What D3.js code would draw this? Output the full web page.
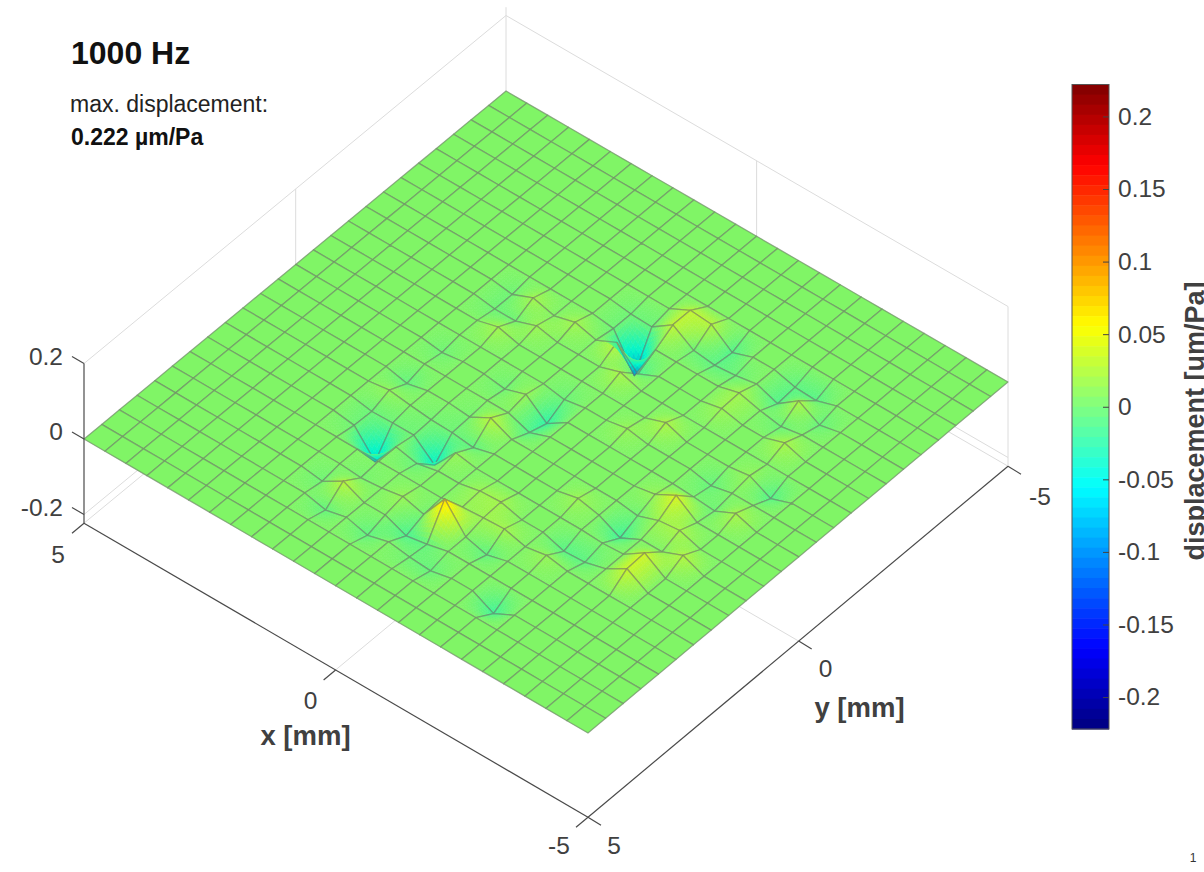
<!DOCTYPE html><html><head><meta charset="utf-8"><style>html,body{margin:0;background:#fff}text{font-family:"Liberation Sans",Arial,sans-serif}</style><script src="https://cdn.jsdelivr.net/npm/d3@7/dist/d3.min.js"></script></head><body><svg id="c" width="1204" height="872" style="display:block"></svg><script>
// ---- data (displacement, 1/1000 um/Pa, rows along x from +5 to -5, columns along y from +5 to -5)
const zRows=[
[0,0,0,0,0,0,0,0,0,0,0,0,0,0,0,0,0,0,0,0,0,0,0,0,0],
[0,0,0,0,0,0,0,0,0,0,0,0,0,0,0,0,0,0,0,0,0,0,0,0,0],
[0,0,0,0,0,0,0,0,0,0,0,0,0,0,0,0,0,0,0,0,0,0,0,0,0],
[0,0,0,0,0,0,0,0,0,0,0,0,0,0,0,0,0,0,0,0,0,0,0,0,0],
[0,0,0,0,0,0,0,0,0,0,0,0,0,0,0,0,0,0,0,0,0,0,0,0,0],
[0,0,0,0,0,0,0,0,0,0,0,0,0,0,0,0,0,0,0,0,0,0,0,0,0],
[0,0,0,0,0,0,0,0,0,0,0,0,0,0,0,0,0,0,0,0,0,0,0,0,0],
[0,0,0,0,0,0,0,-8,-10,8,-13,0,-8,0,0,-8,-8,0,0,0,0,0,0,0,0],
[0,0,0,0,-8,0,0,-72,-8,0,0,0,0,0,15,-8,15,0,0,0,0,0,0,0,0],
[0,0,0,-13,25,-5,0,0,-8,-6,0,0,0,0,0,12,0,0,0,0,0,0,0,0,0],
[0,0,0,0,0,0,0,-12,-55,-8,-5,0,-8,0,0,0,15,0,0,0,0,0,0,0,0],
[0,0,0,-15,0,10,0,0,10,-15,25,0,10,0,0,0,0,-8,-8,0,0,0,0,0,0],
[0,0,0,0,-23,-5,0,0,0,0,0,-20,-35,-10,0,0,26,-100,-10,0,0,0,0,0,0],
[0,0,0,-8,-13,68,8,12,0,0,0,0,0,0,0,18,-25,0,28,28,0,0,0,0,0],
[0,0,0,-12,0,0,12,15,0,0,0,0,0,0,0,0,0,0,-8,23,0,0,0,0,0],
[0,0,0,0,0,-15,15,0,0,0,0,0,0,10,0,0,0,0,-15,-20,0,0,0,0,0],
[0,0,0,0,0,0,0,0,0,12,0,0,0,0,20,0,0,0,-10,0,0,0,0,0,0],
[0,0,0,-28,0,0,10,-18,0,0,0,0,0,0,0,0,12,15,0,0,0,0,0,0,0],
[0,0,0,0,0,0,0,-15,-3,-28,-8,10,0,0,0,0,0,0,-20,-15,0,0,0,0,0],
[0,0,0,0,0,0,0,0,0,0,12,40,-3,-12,0,0,0,-10,20,-18,0,0,0,0,0],
[0,0,0,0,0,0,0,33,36,0,18,0,-8,0,8,0,18,0,-12,0,0,0,0,0,0],
[0,0,0,0,0,0,0,0,0,23,0,0,18,0,-20,0,0,0,0,0,0,0,0,0,0],
[0,0,0,0,0,0,0,0,0,0,0,0,0,0,0,0,0,0,0,0,0,0,0,0,0],
[0,0,0,0,0,0,0,0,0,0,0,0,0,0,0,0,0,0,0,0,0,0,0,0,0],
[0,0,0,0,0,0,0,0,0,0,0,0,0,0,0,0,0,0,0,0,0,0,0,0,0]];
const xTicks=[5,0,-5], yTicks=[5,0,-5], zTicks=[0.2,0,-0.2];
const cbTicks=[0.2,0.15,0.1,0.05,0,-0.05,-0.1,-0.15,-0.2];
const zMax=0.222;
const jetStops=[-1,-0.75,-0.25,0,0.25,0.75,1];
const jetColors=['#00007f','#0000ff','#00ffff','#80ff80','#ffff00','#ff0000','#7f0000'];

// ---- scales
const N=zRows.length-1;
const xS=d3.scaleLinear([5,-5],[0,1]), yS=d3.scaleLinear([5,-5],[0,1]);
const zPx=d3.scaleLinear([-0.2,0.2],[75.5,-75.5]);
const cbY=d3.scaleLinear([zMax,-zMax],[84.5,729]);
const jet=d3.scaleLinear(jetStops.map(d=>d*zMax),jetColors);
const L=[84,439],B=[588,733],R=[1008,382],T=[506,91];
function plane(u,v){const [x0,y0]=L,[x1,y1]=B,[x2,y2]=R,[x3,y3]=T;
 const dx1=x1-x2,dx2=x3-x2,sx=x0-x1+x2-x3,dy1=y1-y2,dy2=y3-y2,sy=y0-y1+y2-y3;
 const d=dx1*dy2-dx2*dy1,g=(sx*dy2-dx2*sy)/d,h=(dx1*sy-sx*dy1)/d;
 const a=x1-x0+g*x1,b=x3-x0+h*x3,e=y1-y0+g*y1,f=y3-y0+h*y3,w=g*u+h*v+1;
 return[(a*u+b*v+x0)/w,(e*u+f*v+y0)/w];}
function proj(x,y,z){const p=plane(xS(x),yS(y));return[p[0],p[1]+zPx(z)];}
const floorZ=-0.223;
const surfColor=z=>{const c=d3.rgb(jet(z));return d3.rgb(c.r,c.g*0.96,c.b*0.8).formatHex();};

const svg=d3.select('#c');
const ln=d3.line();
const wall='#dcdcdc', axisC='#4a4a4a', txt='#404040';
const back=svg.append('g').attr('fill','none').attr('stroke',wall).attr('stroke-width',1);
[[5,5,0.2,5,-5,0.2],[5,-5,0.2,-5,-5,0.2],[5,5,floorZ,5,-5,floorZ],[5,-5,floorZ,-5,-5,floorZ],
 [5,5,-0.2,5,-5,-0.2],[5,-5,-0.2,-5,-5,-0.2],
 [5,0,floorZ,5,0,0.2],[0,-5,floorZ,0,-5,0.2],[5,-5,floorZ,5,-5,0.222],[-5,-5,floorZ,-5,-5,0.2],
 [0,5,floorZ,0,-5,floorZ],[5,0,floorZ,-5,0,floorZ]].forEach(s=>back.append('path').attr('d',ln([proj(s[0],s[1],s[2]),proj(s[3],s[4],s[5])])));

// ---- surface, painted far to near; cells around the deep dips go last so their tips stay visible
const nodeX=i=>xS.invert(i/N), nodeY=j=>yS.invert(j/N);
const surf=svg.append('g');
const SUB=8, deepLimit=-0.05;
const cells=[];
for(let i=0;i<N;i++)for(let j=N-1;j>=0;j--)cells.push({i,j,deep:Math.min(zRows[i][j],zRows[i+1][j],zRows[i+1][j+1],zRows[i][j+1])/1000<deepLimit});
cells.filter(c=>!c.deep).concat(cells.filter(c=>c.deep)).forEach(({i,j,deep})=>{
 const a=zRows[i][j]/1000,b=zRows[i+1][j]/1000,c=zRows[i+1][j+1]/1000,d=zRows[i][j+1]/1000;
 const at=(s,t)=>{const z=a*(1-s)*(1-t)+b*s*(1-t)+c*s*t+d*(1-s)*t;
  return{p:proj(nodeX(i+s),nodeY(j+t),z),z};};
 const g=surf.append('g');
 const flat=a===0&&b===0&&c===0&&d===0, n=flat?1:SUB;
 const patches=[];
 for(let si=0;si<n;si++)for(let sj=n-1;sj>=0;sj--){
  const q=[at(si/n,sj/n),at((si+1)/n,sj/n),at((si+1)/n,(sj+1)/n),at(si/n,(sj+1)/n)];
  patches.push({q,z:d3.mean(q,e=>e.z)});
 }
 if(deep)patches.sort((p,q)=>q.z-p.z);
 patches.forEach(({q,z})=>{const col=surfColor(z);
  g.append('path').attr('d',ln(q.map(e=>e.p))+'Z').attr('fill',col).attr('stroke',col).attr('stroke-width',0.6);});
 g.append('path').attr('d',ln([at(0,0).p,at(1,0).p,at(1,1).p,at(0,1).p])+'Z').attr('fill','none').attr('stroke','#6c666a').attr('stroke-opacity',0.5).attr('stroke-width',1.3).attr('stroke-linejoin','round');
});

// ---- axes
const ax=svg.append('g').attr('fill','none').attr('stroke',axisC).attr('stroke-width',1.2);
const seg=(a,b)=>ax.append('path').attr('d',ln([a,b]));
const XA=x=>proj(x,5,floorZ), YA=y=>proj(-5,y,floorZ), ZA=z=>proj(5,5,z);
seg(XA(5),XA(-5)); seg(YA(5),YA(-5)); seg(ZA(0.2),ZA(floorZ));
xTicks.forEach(v=>{const p=XA(v);seg(p,[p[0]-12,p[1]+10]);});
yTicks.forEach(v=>{const p=YA(v);seg(p,[p[0]+13,p[1]+8]);});
zTicks.forEach(v=>{const p=ZA(v);seg(p,[p[0]-12,p[1]-7]);});
const fmt=v=>String(v);
const lab=svg.append('g').attr('fill',txt).attr('font-size',24.5);
const xOff=new Map([[5,[-26,40]],[0,[-25,39]],[-5,[-29,37]]]), yOff=new Map([[5,[26,37]],[0,[27,36]],[-5,[32,39]]]);
xTicks.forEach(v=>{const p=XA(v),o=xOff.get(v);lab.append('text').attr('x',p[0]+o[0]).attr('y',p[1]+o[1]).attr('text-anchor','middle').text(fmt(v));});
yTicks.forEach(v=>{const p=YA(v),o=yOff.get(v);lab.append('text').attr('x',p[0]+o[0]).attr('y',p[1]+o[1]).attr('text-anchor','middle').text(fmt(v));});
zTicks.forEach(v=>{const p=ZA(v);lab.append('text').attr('x',p[0]-21).attr('y',p[1]+1).attr('text-anchor','end').text(fmt(v));});
svg.append('text').attr('x',305.5).attr('y',745).attr('text-anchor','middle').attr('font-weight','bold').attr('font-size',27.5).attr('fill',txt).text('x [mm]');
svg.append('text').attr('x',859.5).attr('y',717).attr('text-anchor','middle').attr('font-weight','bold').attr('font-size',27.5).attr('fill',txt).text('y [mm]');

// ---- colorbar
const levels=d3.range(64);
const cbStep=(cbY(-zMax)-cbY(zMax))/64;
const cb=svg.append('g');
cb.selectAll('rect').data(levels).join('rect').attr('x',1072).attr('width',37).attr('y',d=>cbY(zMax)+d*cbStep).attr('height',cbStep+0.5)
 .attr('fill',d=>jet(zMax-(d+0.5)*2*zMax/64));
cb.append('rect').attr('x',1072).attr('y',cbY(zMax)).attr('width',37).attr('height',cbY(-zMax)-cbY(zMax)).attr('fill','none').attr('stroke','#555');
const cbAxis=d3.axisRight(cbY).tickValues(cbTicks).tickSize(-6).tickPadding(9).tickFormat(fmt);
const cba=svg.append('g').attr('transform','translate(1109,0)').call(cbAxis);
cba.select('.domain').remove();
cba.selectAll('line').attr('stroke','#444');
cba.selectAll('text').attr('font-size',24.5).attr('fill',txt).attr('x',9);
svg.append('text').attr('transform','translate(1204,421) rotate(-90)').attr('text-anchor','middle').attr('font-weight','bold').attr('font-size',27).attr('fill',txt).text('displacement [um/Pa]');

// ---- annotations
svg.append('text').attr('x',71).attr('y',64).attr('font-weight','bold').attr('font-size',32).attr('fill','#111').text('1000 Hz');
svg.append('text').attr('x',70).attr('y',112).attr('font-size',23).attr('fill','#222').text('max. displacement:');
svg.append('text').attr('x',71).attr('y',145).attr('font-weight','bold').attr('font-size',23).attr('fill','#111').text('0.222 µm/Pa');
svg.append('text').attr('x',1193).attr('y',862).attr('text-anchor','middle').attr('font-size',12).attr('fill','#333').text('1');
</script></body></html>
